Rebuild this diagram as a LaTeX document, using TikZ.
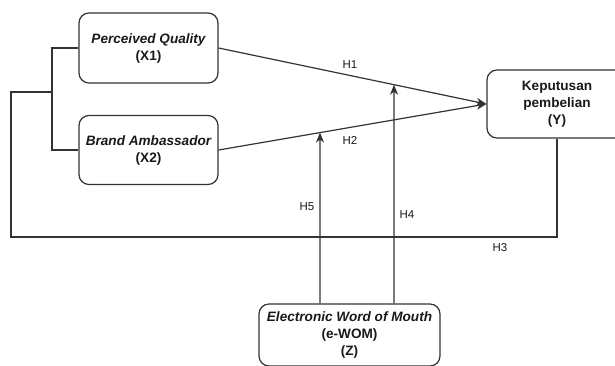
\documentclass[tikz,border=0pt]{standalone}
\usepackage{fontspec}
\setmainfont{Liberation Sans}
\usetikzlibrary{arrows.meta}
\definecolor{ln}{HTML}{333333}
\definecolor{tx}{HTML}{1A1A1A}
\tikzset{
  box/.style={draw=ln, line width=1.2pt, rounded corners=10pt, align=center,
    inner sep=0pt, text=tx, font=\fontsize{13.6}{17}\selectfont\bfseries},
  conn/.style={draw=ln, line width=1.2pt},
  arr/.style={conn, -{Stealth[length=10pt,width=8pt,inset=3pt]}},
  hlab/.style={text=tx, font=\fontsize{11.5}{14}\selectfont, inner sep=0pt}
}
\begin{document}
\begin{tikzpicture}[x=1pt,y=-1pt]
\clip (0,0) rectangle (615,365);
\fill[white] (0,0) rectangle (615,365);
\node[box, minimum width=139, minimum height=70] (X1) at (148.5,48) {\itshape Perceived Quality\\(X1)};
\node[box, minimum width=139, minimum height=69] (X2) at (148.5,150) {\itshape Brand Ambassador\\(X2)};
\node[box, minimum width=140, minimum height=68] (Y) at (557,104) {Keputusan\\pembelian\\(Y)};
\node[box, minimum width=181, minimum height=62] (Z) at (349.5,335) {\itshape Electronic Word of Mouth\\(e-WOM)\\(Z)};
\coordinate (br) at (52,92);
\coordinate (lc) at (11,237);
\path (Z.north) ++(-29.5,0) coordinate (z5) ++(0,-100) coordinate (z5u);
\path (Z.north) ++(44.5,0) coordinate (z4) ++(0,-100) coordinate (z4u);
% bracket and H3 path
\draw[conn] (X1.west) -| (br) |- (X2.west);
\draw[conn] (br) -| (lc) -| (Y.south);
% main arrows
\draw[arr] (X1.east) -- (Y.west);
\draw[arr] (X2.east) -- (Y.west);
% moderation arrows
\draw[arr] (z5) -- (intersection of X2.east--Y.west and z5--z5u);
\draw[arr] (z4) -- (intersection of X1.east--Y.west and z4--z4u);
% labels
\node[hlab] (H1) at (350,65) {H1};
\node[hlab] (H2) at (350,140) {H2};
\node[hlab] (H5) at (307,207) {H5};
\node[hlab] (H4) at (407,215) {H4};
\node[hlab] (H3) at (500,248) {H3};
\end{tikzpicture}
\end{document}
